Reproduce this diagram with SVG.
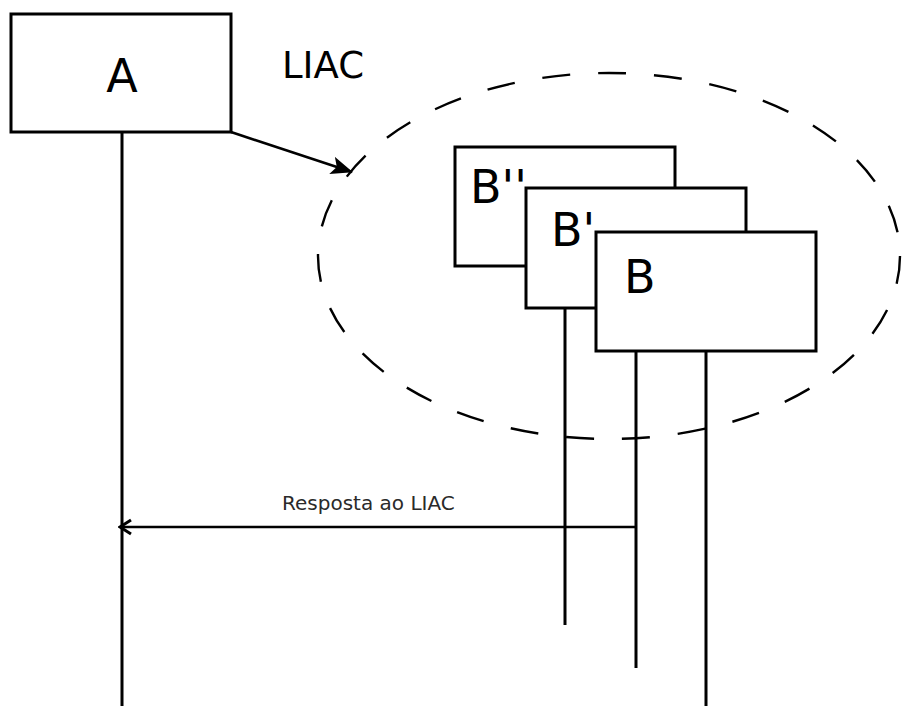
<svg xmlns="http://www.w3.org/2000/svg" width="903" height="706" viewBox="0 0 903 706">
  <style>
    .box { fill: #ffffff; stroke: #000000; stroke-width: 3; }
    .life { stroke: #000000; stroke-width: 3; fill: none; }
    .msg { stroke: #000000; stroke-width: 2.6; fill: none; }
    .big { font-family: "DejaVu Sans", sans-serif; font-size: 46px; fill: #000000; }
    .small { font-family: "DejaVu Sans", sans-serif; font-size: 20px; fill: #2a2a2a; }
  </style>
  <defs>
    <marker id="solid" viewBox="0 0 22 18" refX="21" refY="9" markerWidth="22" markerHeight="18" orient="auto" markerUnits="userSpaceOnUse">
      <path d="M0,0 L22,9 L0,18 L5,9 z" fill="#000000"/>
    </marker>
    <marker id="open" viewBox="0 0 16 18" refX="14" refY="9" markerWidth="16" markerHeight="18" orient="auto" markerUnits="userSpaceOnUse">
      <path d="M3,2 L14,9 L3,16" fill="none" stroke="#000000" stroke-width="3"/>
    </marker>
  </defs>
  <rect width="903" height="706" fill="#ffffff"/>

  <!-- dashed group boundary -->
  <ellipse id="group" cx="609" cy="256" rx="291" ry="183" fill="none" stroke="#000000" stroke-width="2.4" stroke-dasharray="28 28"/>

  <g id="lifelines">
    <line class="life" x1="122" y1="132" x2="122" y2="706"/>
    <line class="life" x1="565" y1="308" x2="565" y2="625"/>
    <line class="life" x1="636" y1="351" x2="636" y2="668"/>
    <line class="life" x1="706" y1="351" x2="706" y2="706"/>
  </g>

  <g id="node-a">
    <rect class="box" x="11" y="14" width="220" height="118"/>
    <text class="big" x="122" y="92" text-anchor="middle">A</text>
  </g>

  <g id="node-b2">
    <rect class="box" x="455" y="147" width="220" height="119"/>
    <text class="big" x="470" y="203">B''</text>
  </g>
  <g id="node-b1">
    <rect class="box" x="526" y="188" width="220" height="120"/>
    <text class="big" x="551" y="246">B'</text>
  </g>
  <g id="node-b">
    <rect class="box" x="596" y="232" width="220" height="119"/>
    <text class="big" x="624" y="293">B</text>
  </g>

  <g id="connectors">
    <line class="msg" x1="231" y1="132" x2="352" y2="172" marker-end="url(#solid)"/>
    <text class="big" x="282" y="78" style="font-size:37px">LIAC</text>
    <line class="msg" x1="636" y1="527" x2="120" y2="527" marker-end="url(#open)"/>
    <text class="small" x="282" y="510">Resposta ao LIAC</text>
  </g>
</svg>
